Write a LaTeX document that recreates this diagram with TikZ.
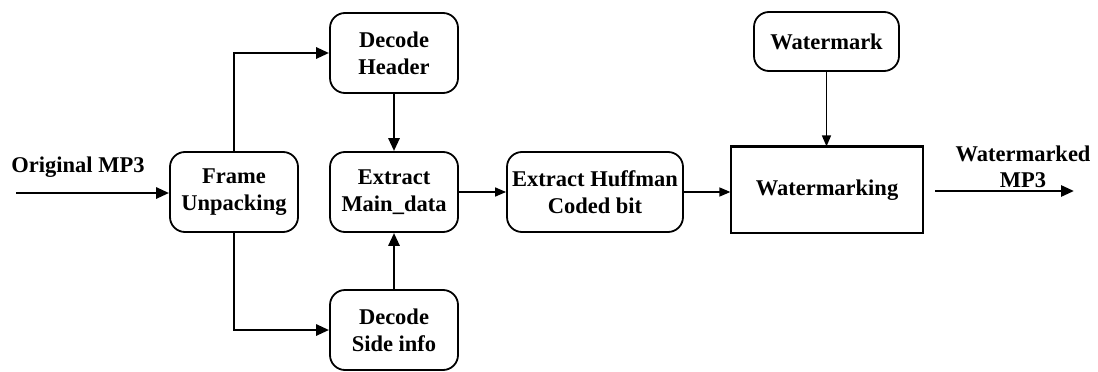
\documentclass[tikz,border=0pt]{standalone}
\usepackage{fontspec}
\setmainfont{Liberation Serif}
\usetikzlibrary{arrows.meta}
\tikzset{
  rbox/.style={draw, line width=1.8pt, rounded corners=15pt, align=center, inner sep=2pt,
    font=\fontsize{22.5}{27}\selectfont\bfseries},
  sbox/.style={draw, line width=1.2pt, align=center, inner sep=2pt,
    font=\fontsize{22.5}{27}\selectfont\bfseries},
  lbl/.style={align=center, inner sep=0pt, font=\fontsize{22.5}{26}\selectfont\bfseries},
  thickarrow/.style={line width=2.8pt, -{Triangle[length=13pt,width=11pt]}},
  thinarrow/.style={line width=1.5pt, -{Triangle[length=11pt,width=9pt]}}
}
\begin{document}
\begin{tikzpicture}[x=1pt,y=-1pt]
\useasboundingbox (0,0) rectangle (1098,372);
\node[rbox, minimum width=128pt, minimum height=80pt] (fu) at (234,192) {Frame\\Unpacking};
\node[rbox, minimum width=128pt, minimum height=80pt] (dh) at (394,53) {Decode\\Header};
\node[rbox, minimum width=128pt, minimum height=80pt] (em) at (394,192) {Extract\\Main\_data};
\node[rbox, minimum width=128pt, minimum height=80pt] (ds) at (394,330) {Decode\\Side info};
\node[rbox, minimum width=176pt, minimum height=80pt] (hc) at (595,192) {Extract Huffman\\Coded bit};
\node[sbox, minimum width=192pt, minimum height=86pt] (wm) at (827,190) {Watermarking};
\node[rbox, minimum width=145pt, minimum height=59pt] (wk) at (826.5,41.5) {Watermark};
\draw[line width=3.2pt] (wm.north west) -- (wm.north east);
\node[lbl] (orig) at (78,167) {Original MP3};
\node[lbl] (wmd) at (1023,167) {Watermarked\\MP3};
\coordinate (in) at (16,193);
\coordinate (o1) at (935,191);
\coordinate (o2) at (1074,191);
\draw[thickarrow] (in) -- (in -| fu.west);
\draw[thickarrow] (fu.north) |- (dh.west);
\draw[thickarrow] (fu.south) |- (ds.west);
\draw[thickarrow] (dh.south) -- (em.north);
\draw[thickarrow] (ds.north) -- (em.south);
\draw[thinarrow] (em.east) -- (hc.west);
\draw[thinarrow] (hc.east) -- (hc.east -| wm.west);
\draw[thinarrow] (wk.south) -- (wk.south |- wm.north);
\draw[thickarrow] (o1) -- (o2);
\end{tikzpicture}
\end{document}
